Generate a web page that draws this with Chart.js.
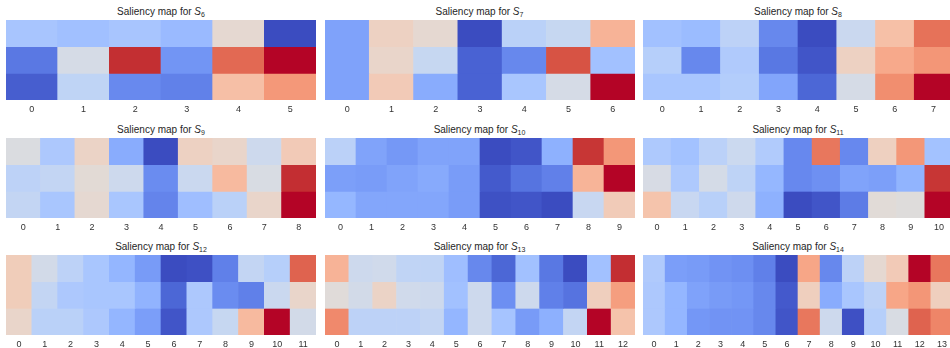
<!DOCTYPE html>
<html>
<head>
<meta charset="utf-8">
<script src="https://cdn.jsdelivr.net/npm/chart.js@4.4.1/dist/chart.umd.min.js"></script>
<style>
  body { margin: 0; width: 950px; height: 348px; overflow: hidden; background: #fff; position: relative;
         font-family: "Liberation Sans", Arial, sans-serif; }
  .panel { position: absolute; width: 310px; height: 96px; }
  .title { position: absolute; width: 310px; text-align: center; font-size: 10px; line-height: 12px; color: #262626; }
  .title i { font-style: italic; }
  .title sub { font-size: 7px; vertical-align: baseline; position: relative; top: 2px; }
</style>
</head>
<body>
<script>
// saliency values, one array per row (top to bottom), per sequence length
const s6 = [
  [0.34, 0.32, 0.34, 0.30, 0.54, 0.02],
  [0.12, 0.48, 0.96, 0.19, 0.86, 1.00],
  [0.06, 0.41, 0.16, 0.14, 0.65, 0.76]
];
const s7 = [
  [0.21, 0.57, 0.53, 0.00, 0.38, 0.42, 0.68],
  [0.21, 0.55, 0.42, 0.05, 0.14, 0.90, 0.31],
  [0.21, 0.60, 0.24, 0.05, 0.33, 0.47, 1.00]
];
const s8 = [
  [0.31, 0.29, 0.39, 0.14, 0.00, 0.43, 0.64, 0.84],
  [0.37, 0.14, 0.35, 0.10, 0.02, 0.57, 0.71, 0.76],
  [0.33, 0.33, 0.36, 0.22, 0.06, 0.47, 0.78, 1.00]
];
const s9 = [
  [0.49, 0.34, 0.56, 0.24, 0.00, 0.57, 0.55, 0.44, 0.60],
  [0.39, 0.41, 0.52, 0.44, 0.15, 0.43, 0.66, 0.48, 0.96],
  [0.41, 0.33, 0.53, 0.33, 0.13, 0.30, 0.38, 0.55, 1.00]
];
const s10 = [
  [0.39, 0.22, 0.19, 0.22, 0.22, 0.01, 0.03, 0.26, 0.95, 0.76],
  [0.21, 0.20, 0.22, 0.24, 0.20, 0.04, 0.10, 0.13, 0.68, 1.00],
  [0.28, 0.23, 0.23, 0.23, 0.20, 0.02, 0.03, 0.01, 0.43, 0.60]
];
const s11 = [
  [0.35, 0.32, 0.39, 0.44, 0.36, 0.15, 0.83, 0.15, 0.58, 0.76, 0.32],
  [0.48, 0.35, 0.47, 0.40, 0.28, 0.15, 0.17, 0.22, 0.21, 0.27, 0.95],
  [0.63, 0.43, 0.38, 0.45, 0.26, 0.01, 0.03, 0.12, 0.52, 0.51, 1.00]
];
const s12 = [
  [0.59, 0.46, 0.39, 0.33, 0.27, 0.19, 0.00, 0.01, 0.12, 0.41, 0.37, 0.87],
  [0.59, 0.41, 0.34, 0.33, 0.33, 0.26, 0.06, 0.34, 0.15, 0.12, 0.43, 0.55],
  [0.55, 0.38, 0.38, 0.34, 0.27, 0.20, 0.02, 0.34, 0.42, 0.66, 1.00, 0.46]
];
const s13 = [
  [0.68, 0.44, 0.45, 0.40, 0.40, 0.30, 0.14, 0.06, 0.31, 0.10, 0.00, 0.31, 0.96],
  [0.51, 0.46, 0.56, 0.45, 0.44, 0.31, 0.44, 0.16, 0.44, 0.12, 0.09, 0.58, 0.74],
  [0.79, 0.39, 0.39, 0.39, 0.41, 0.27, 0.44, 0.32, 0.19, 0.25, 0.41, 1.00, 0.63]
];
const s14 = [
  [0.35, 0.20, 0.19, 0.17, 0.16, 0.12, 0.00, 0.72, 0.14, 0.39, 0.53, 0.60, 1.00, 0.83],
  [0.34, 0.27, 0.21, 0.19, 0.18, 0.14, 0.03, 0.58, 0.24, 0.33, 0.39, 0.72, 0.76, 0.58],
  [0.34, 0.27, 0.18, 0.17, 0.17, 0.14, 0.02, 0.83, 0.44, 0.01, 0.37, 0.48, 0.87, 0.80]
];

const maps = [s6, s7, s8, s9, s10, s11, s12, s13, s14];
const subscripts = ['6', '7', '8', '9', '10', '11', '12', '13', '14'];

// matplotlib coolwarm (Moreland), 33 control points
const COOLWARM = [
  [59,76,192],[68,90,204],[77,104,215],[87,117,225],[98,130,234],[108,142,241],[119,154,247],[130,165,251],
  [141,176,254],[152,185,255],[163,194,255],[174,201,253],[184,208,249],[194,213,244],[204,217,238],[213,219,230],
  [221,221,221],[229,216,209],[236,211,197],[241,204,185],[245,196,173],[247,187,160],[247,177,148],[247,166,135],
  [244,154,123],[241,141,111],[236,127,99],[229,112,88],[222,96,77],[213,80,66],[203,62,56],[192,40,47],[180,4,38]
];

function coolwarm(t) {
  t = Math.max(0, Math.min(1, t)) * (COOLWARM.length - 1);
  const i = Math.min(Math.floor(t), COOLWARM.length - 2);
  const f = t - i;
  const a = COOLWARM[i], b = COOLWARM[i + 1];
  const c = a.map((v, k) => Math.round(v + (b[k] - v) * f));
  return `rgb(${c[0]},${c[1]},${c[2]})`;
}

const lefts = [6, 324.5, 643];
const tops = [20, 137.5, 255];

maps.forEach((rows, idx) => {
  const left = lefts[idx % 3];
  const top = tops[Math.floor(idx / 3)];

  const title = document.createElement('div');
  title.className = 'title';
  title.style.left = left + 'px';
  title.style.top = (top - 14) + 'px';
  title.innerHTML = `Saliency map for <i>S</i><sub>${subscripts[idx]}</sub>`;
  document.body.appendChild(title);

  const box = document.createElement('div');
  box.className = 'panel';
  box.style.left = left + 'px';
  box.style.top = top + 'px';
  const canvas = document.createElement('canvas');
  box.appendChild(canvas);
  document.body.appendChild(box);

  const flat = rows.flat();
  const lo = Math.min(...flat), hi = Math.max(...flat);
  const labels = rows[0].map((_, i) => String(i));

  new Chart(canvas, {
    type: 'bar',
    data: {
      labels: labels,
      datasets: rows.map(r => ({
        data: r.map(() => 1),
        backgroundColor: r.map(v => coolwarm((v - lo) / (hi - lo))),
        borderWidth: 0,
        barPercentage: 1,
        categoryPercentage: 1,
        stack: 'cells'
      }))
    },
    options: {
      responsive: true,
      maintainAspectRatio: false,
      animation: false,
      layout: { padding: 0 },
      plugins: { legend: { display: false }, tooltip: { enabled: false } },
      scales: {
        x: {
          stacked: true,
          grid: { display: false, drawTicks: false },
          border: { display: false },
          ticks: { color: '#333', font: { family: 'Liberation Sans', size: 9 }, padding: 4, maxRotation: 0, autoSkip: false },
          afterFit: s => { s.height = 16; }
        },
        y: { stacked: true, display: false, min: 0, max: 3, reverse: true }
      }
    }
  });
});
</script>
</body>
</html>
